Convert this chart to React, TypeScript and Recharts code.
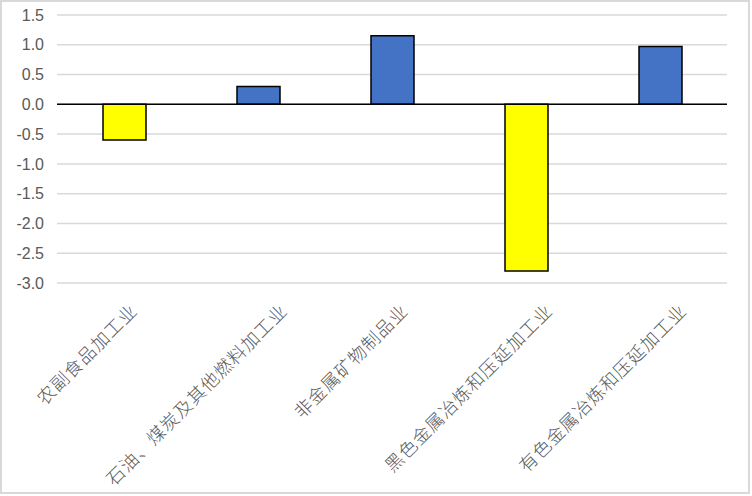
import React from 'react'
import { BarChart, Bar, XAxis, YAxis, CartesianGrid, ReferenceLine, Cell } from 'recharts'

const categories = [
  '农副食品加工业',
  '石油、煤炭及其他燃料加工业',
  '非金属矿物制品业',
  '黑色金属冶炼和压延加工业',
  '有色金属冶炼和压延加工业',
]
const values = [-0.6, 0.3, 1.15, -2.8, 0.97]
const yTicks = [-3, -2.5, -2, -1.5, -1, -0.5, 0, 0.5, 1, 1.5]

const data = categories.map((name, i) => ({ name, value: values[i] }))

const POS = '#4472C4'
const NEG = '#FFFF00'
const TEXT = '#595959'

// Excel pushes longer rotated labels a little further right of the tick
const CategoryTick = (props: any) => {
  const { x, y, payload } = props
  const len = String(payload.value).length
  const ax = x + 2.67 * len - 4
  const ay = y + 21
  return (
    <text
      x={ax}
      y={ay}
      textAnchor="end"
      transform={`rotate(-45, ${ax}, ${ay})`}
      fill={TEXT}
      fontSize={18}
      letterSpacing={1}
      fontFamily="'Noto Sans CJK SC', sans-serif"
      fontWeight={300}
    >
      {payload.value}
    </text>
  )
}

export default function App() {
  return (
    <div
      style={{
        position: 'fixed',
        left: 0,
        top: 0,
        width: 752,
        height: 496,
        background: '#fff',
      }}
    >
      <div
        style={{
          position: 'absolute',
          left: 0,
          top: 0,
          width: 746,
          height: 490,
          border: '2px solid #d9d9d9',
          boxSizing: 'content-box',
        }}
      />
      <BarChart
        width={752}
        height={496}
        data={data}
        margin={{ top: 15, right: 25, left: 0, bottom: 0 }}
        barSize={43}
      >
        <CartesianGrid vertical={false} stroke="#d9d9d9" strokeWidth={1.5} />
        <XAxis
          dataKey="name"
          height={213}
          axisLine={false}
          tickLine={false}
          interval={0}
          tick={<CategoryTick />}
        />
        <YAxis
          width={57}
          domain={[-3, 1.5]}
          ticks={yTicks}
          axisLine={false}
          tickLine={false}
          tickSize={0}
          tickMargin={13}
          tickFormatter={(v: number) => v.toFixed(1)}
          tick={{ fontSize: 16, fill: TEXT, fontFamily: "'Liberation Sans', sans-serif" }}
        />
        <ReferenceLine y={0} stroke="#000" strokeWidth={1.5} />
        <Bar dataKey="value" stroke="#000" strokeWidth={1.5} isAnimationActive={false}>
          {data.map((d, i) => (
            <Cell key={i} fill={d.value < 0 ? NEG : POS} />
          ))}
        </Bar>
      </BarChart>
    </div>
  )
}
